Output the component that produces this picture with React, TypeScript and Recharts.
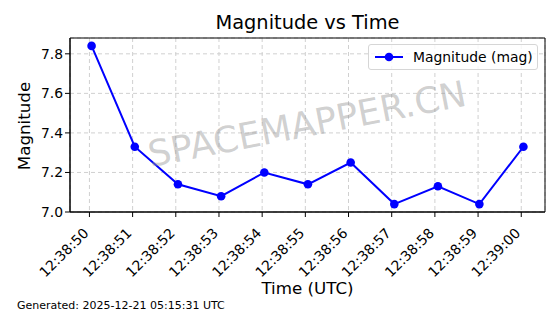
import React from "react";
import {
  LineChart,
  Line,
  XAxis,
  YAxis,
  CartesianGrid,
  ReferenceArea,
} from "recharts";

// seconds after 12:38:00 UTC (timestamps sit a little past each whole second)
const seconds = [50.05, 51.05, 52.05, 53.05, 54.05, 55.06, 56.05, 57.06, 58.07, 59.03, 60.05];
const magnitudes = [7.84, 7.33, 7.14, 7.08, 7.2, 7.14, 7.25, 7.04, 7.13, 7.04, 7.33];
const xTicks = [50, 51, 52, 53, 54, 55, 56, 57, 58, 59, 60];
const yTicks = [7.0, 7.2, 7.4, 7.6, 7.8];

const chartData = seconds.map((s, i) => ({ t: s, mag: magnitudes[i] }));

const X_DOMAIN: [number, number] = [49.55, 60.55];
const Y_DOMAIN: [number, number] = [7.0, 7.88];
const FONT = "'DejaVu Sans', sans-serif";

function timeLabel(v: number) {
  const m = 38 + Math.floor(v / 60);
  const s = v % 60;
  return `12:${String(m).padStart(2, "0")}:${String(s).padStart(2, "0")}`;
}

function RotatedTick(props: any) {
  const { x, y, payload } = props;
  return (
    <g transform={`translate(${x},${y + 15})`}>
      <text
        textAnchor="end"
        transform="rotate(-45)"
        fontSize={13.9}
        fontFamily={FONT}
        fill="#000"
      >
        {timeLabel(payload.value)}
      </text>
    </g>
  );
}

function LegendBox() {
  return (
    <div
      style={{
        position: "absolute",
        left: 368,
        top: 44,
        width: 170,
        height: 26,
        boxSizing: "border-box",
        display: "flex",
        alignItems: "center",
        border: "1px solid #d6d6d6",
        borderRadius: 3,
        background: "rgba(255,255,255,0.8)",
        padding: "0 0 0 5px",
        fontSize: 13.9,
        whiteSpace: "nowrap",
      }}
    >
      <svg width={30} height={12} style={{ marginRight: 9 }}>
        <line x1={1} y1={6} x2={29} y2={6} stroke="#0000ff" strokeWidth={2} />
        <circle cx={15} cy={6} r={4.3} fill="#0000ff" />
      </svg>
      <span>Magnitude (mag)</span>
    </div>
  );
}

export default function App() {
  return (
    <div
      style={{
        position: "fixed",
        left: 0,
        top: 0,
        width: 560,
        height: 314,
        background: "#fff",
        fontFamily: FONT,
      }}
    >
      <div
        style={{
          position: "absolute",
          top: 11,
          left: 70,
          width: 475,
          textAlign: "center",
          fontSize: 19.4,
        }}
      >
        Magnitude vs Time
      </div>
      <LineChart
        width={560}
        height={314}
        data={chartData}
        margin={{ top: 38, right: 15, left: 30, bottom: 42 }}
      >
        <CartesianGrid strokeDasharray="4 3" stroke="#d0d0d0" />
        <XAxis
          dataKey="t"
          type="number"
          domain={X_DOMAIN}
          ticks={xTicks}
          tick={<RotatedTick />}
          tickSize={5}
          height={60}
          stroke="#000"
          interval={0}
          allowDataOverflow
        />
        <YAxis
          type="number"
          domain={Y_DOMAIN}
          ticks={yTicks}
          tickFormatter={(v: number) => v.toFixed(1)}
          tick={{ fontSize: 13.9, fill: "#000", fontFamily: FONT }}
          tickSize={5}
          width={40}
          stroke="#000"
          allowDataOverflow
        />
        <ReferenceArea
          x1={X_DOMAIN[0]}
          x2={X_DOMAIN[1]}
          y1={Y_DOMAIN[0]}
          y2={Y_DOMAIN[1]}
          fill="none"
          fillOpacity={0}
          stroke="#000"
          strokeWidth={1}
          ifOverflow="visible"
        />
        <Line
          type="linear"
          dataKey="mag"
          stroke="#0000ff"
          strokeWidth={2}
          dot={{ r: 4.3, fill: "#0000ff", stroke: "#0000ff", strokeWidth: 0 }}
          activeDot={false}
          isAnimationActive={false}
        />
      </LineChart>
      <LegendBox />
      <div
        style={{
          position: "absolute",
          left: 24,
          top: 126,
          transform: "translate(-50%, -50%) rotate(-90deg)",
          fontSize: 16.7,
          whiteSpace: "nowrap",
        }}
      >
        Magnitude
      </div>
      <div
        style={{
          position: "absolute",
          left: 70,
          width: 475,
          top: 278,
          textAlign: "center",
          fontSize: 16.7,
        }}
      >
        Time (UTC)
      </div>
      <div
        style={{
          position: "absolute",
          left: 307,
          top: 124,
          transform: "translate(-50%, -50%) rotate(-11deg)",
          fontSize: 36,
          color: "rgba(150,150,150,0.45)",
          whiteSpace: "nowrap",
          pointerEvents: "none",
        }}
      >
        SPACEMAPPER.CN
      </div>
      <div
        style={{
          position: "absolute",
          left: 17,
          top: 299,
          fontSize: 11,
        }}
      >
        Generated: 2025-12-21 05:15:31 UTC
      </div>
    </div>
  );
}
